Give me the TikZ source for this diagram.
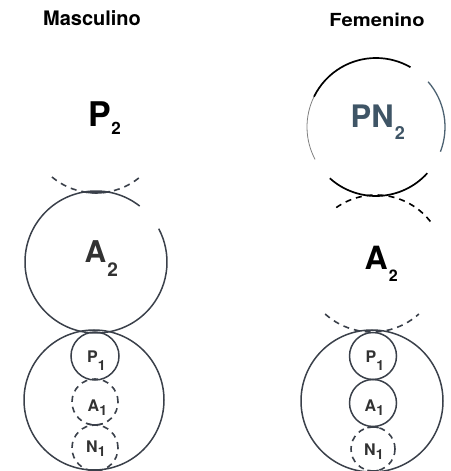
\documentclass[tikz,border=0pt]{standalone}
\usepackage{fontspec}
\setmainfont{TeX Gyre Heros}
\definecolor{circ}{RGB}{58,64,74}
\definecolor{pncol}{RGB}{63,85,102}
\definecolor{rcol}{RGB}{77,98,114}
\definecolor{lgrey}{RGB}{50,50,50}
% #1 size, #2 main, #3 subsize, #4 drop, #5 kern, #6 sub
\newcommand\mylbl[6]{{\fontsize{#1}{#1}\selectfont #2}\kern#5\raisebox{#4}{\fontsize{#3}{#3}\selectfont #6}}
\begin{document}
\begin{tikzpicture}[x=1pt,y=1pt,
  solidc/.style={draw=circ,line width=1.5pt},
  dashc/.style={draw=circ,line width=1.6pt,dash pattern=on 6pt off 5pt},
  lab/.style={anchor=base west,inner sep=0pt,font=\bfseries},
  title/.style={inner sep=0pt,font=\bfseries}]
\useasboundingbox (0,0) rectangle (450,471);
% ---------- titles
\node[title] (tm) at (92,453) {\fontsize{20}{20}\selectfont Masculino};
\node[title] (tf) at (377,451) {\scalebox{1.12}[1]{\fontsize{18}{18}\selectfont Femenino}};
% ---------- left column
\coordinate (p2c) at (96,346.5);
\draw[dashc] (p2c) ++(230:68.5) arc[start angle=230,end angle=310,radius=68.5];
\draw[solidc] (p2c) ++(258:68.5) arc[start angle=258,end angle=282,radius=68.5];
\node[lab] (p2) at (88.5,344) {\mylbl{34}{P}{17}{-8pt}{0pt}{2}};
\coordinate (a2c) at (96,209);
\draw[solidc] (a2c) ++(52:71) arc[start angle=52,end angle=388,radius=71];
\node[lab,text=lgrey] (a2) at (84.5,208) {\mylbl{30}{A}{19}{-14pt}{1pt}{2}};
\coordinate (bigl) at (94,71);
\draw[solidc] (bigl) circle[radius=70];
\coordinate (p1l) at (95,115);
\draw[solidc] (p1l) circle[radius=24];
\coordinate (a1l) at (95,69);
\draw[dashc] (a1l) circle[radius=23];
\draw[solidc] (a1l) ++(250:23) arc[start angle=250,end angle=290,radius=23];
\coordinate (n1l) at (95,23);
\draw[dashc] (n1l) circle[radius=23];
\draw[solidc] (n1l) ++(255:23) arc[start angle=255,end angle=285,radius=23];
\node[lab,text=lgrey] (p1lt) at (87,108) {\mylbl{16}{P}{14}{-8pt}{0pt}{1}};
\node[lab,text=lgrey] (a1lt) at (87.5,59) {\mylbl{16}{A}{14}{-4pt}{0pt}{1}};
\node[lab,text=lgrey] (n1lt) at (86,18) {\mylbl{16}{N}{14}{-4pt}{0pt}{1}};
% ---------- right column
\coordinate (pnc) at (376,344);
\draw[draw=black,line width=1.7pt] (pnc) ++(60:69) arc[start angle=60,end angle=154,radius=69];
\draw[draw=gray,line width=0.8pt] (pnc) ++(154:69) arc[start angle=154,end angle=208,radius=69];
\draw[draw=rcol,line width=1.3pt] (pnc) ++(-21:69) arc[start angle=-21,end angle=41,radius=69];
\draw[draw=black,line width=1.7pt] (pnc) ++(228:69) arc[start angle=228,end angle=318,radius=69];
\node[lab,text=pncol] (pn2) at (350.5,343) {\mylbl{31}{PN}{18}{-12pt}{1pt}{2}};
\coordinate (a2rc) at (376,207);
\draw[dashc,draw=black] (a2rc) ++(38:69) arc[start angle=38,end angle=128,radius=69];
\node[lab] (a2r) at (364.5,201) {\mylbl{32}{A}{16}{-12pt}{1pt}{2}};
\coordinate (a2rb) at (372,209);
\draw[dashc] (a2rb) ++(228:70) arc[start angle=228,end angle=312,radius=70];
\coordinate (bigr) at (372,70);
\draw[solidc] (bigr) circle[radius=71];
\coordinate (p1r) at (373,115);
\draw[solidc] (p1r) circle[radius=23.5];
\coordinate (a1r) at (373,68);
\draw[solidc] (a1r) circle[radius=23.5];
\coordinate (n1r) at (373,22);
\draw[dashc] (n1r) circle[radius=22];
\draw[solidc] (n1r) ++(75:22) arc[start angle=75,end angle=105,radius=22];
\draw[solidc] (n1r) ++(255:22) arc[start angle=255,end angle=285,radius=22];
\node[lab,text=lgrey] (p1rt) at (365.5,108) {\mylbl{16}{P}{14}{-8pt}{0pt}{1}};
\node[lab,text=lgrey] (a1rt) at (364.5,59) {\mylbl{16}{A}{14}{-4pt}{0pt}{1}};
\node[lab,text=lgrey] (n1rt) at (364,16) {\mylbl{16}{N}{14}{-4pt}{0pt}{1}};
\end{tikzpicture}
\end{document}
